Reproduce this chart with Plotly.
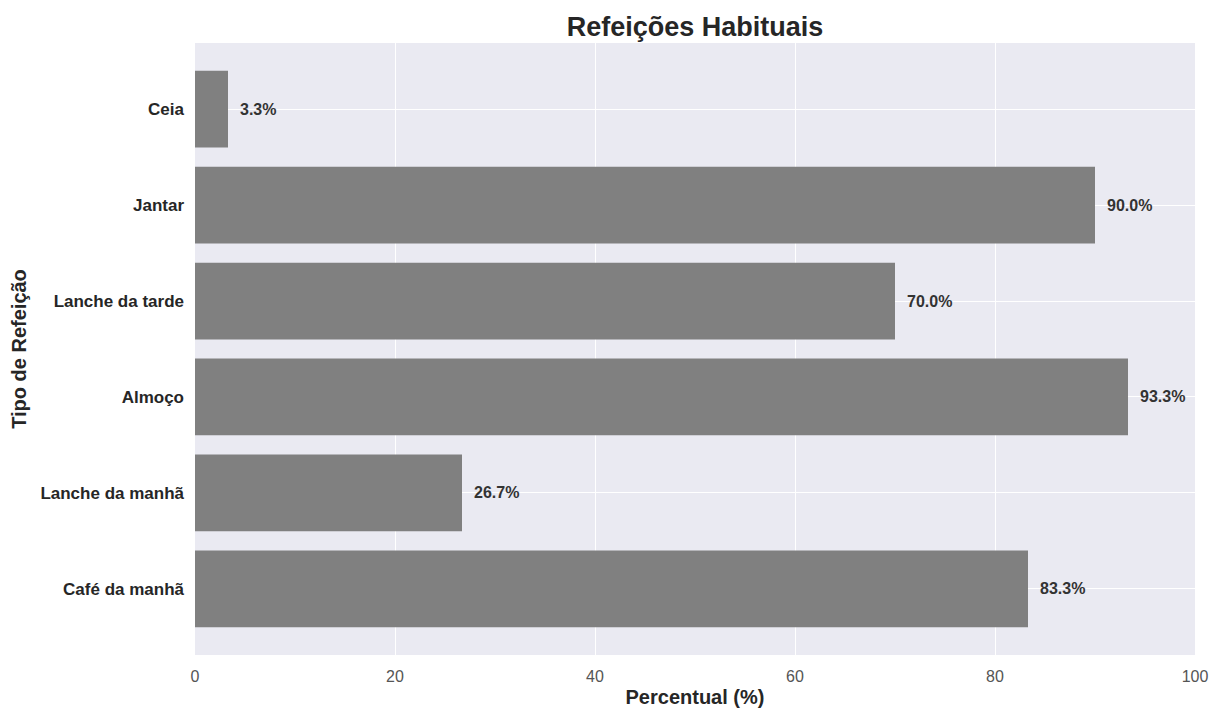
import plotly.graph_objects as go

# Habitual meals and share of respondents (%)
refeicoes = ["Café da manhã", "Lanche da manhã", "Almoço", "Lanche da tarde", "Jantar", "Ceia"]
percentuais = [83.3, 26.7, 93.3, 70.0, 90.0, 3.3]
xticks = [0, 20, 40, 60, 80, 100]

FONT = "Liberation Sans, Arial, sans-serif"

fig = go.Figure()
fig.add_trace(go.Bar(
    x=percentuais,
    y=refeicoes,
    orientation="h",
    width=0.8,
    marker=dict(color="#808080", line=dict(width=0)),
    hoverinfo="skip",
))

# value labels just past the end of each bar
for v, cat in zip(percentuais, refeicoes):
    fig.add_annotation(
        x=v, y=cat, text=f"<b>{v:.1f}%</b>", showarrow=False,
        xanchor="left", xshift=10,
        font=dict(family=FONT, size=16, color="#333333"),
    )

fig.update_layout(
    width=1211, height=708,
    margin=dict(l=195, r=16, t=43, b=53),
    paper_bgcolor="white",
    plot_bgcolor="#EAEAF2",
    showlegend=False,
    title=dict(
        text="<b>Refeições Habituais</b>",
        xref="paper", x=0.5, xanchor="center",
        yref="container", y=0.962, yanchor="middle",
        font=dict(family=FONT, size=27, color="#262626"),
    ),
    xaxis=dict(
        range=[0, 100], tickvals=xticks, ticktext=[str(t) for t in xticks],
        automargin=False,
        showgrid=True, gridcolor="white", gridwidth=1.3, zeroline=False,
        showline=False, ticks="", ticklabelstandoff=10,
        tickfont=dict(family=FONT, size=16, color="#555555"),
        title=dict(text="<b>Percentual (%)</b>", standoff=6,
                   font=dict(family=FONT, size=20, color="#262626")),
    ),
    yaxis=dict(
        type="category", categoryorder="array", categoryarray=refeicoes,
        range=[-0.69, 5.69], automargin=False,
        showgrid=True, gridcolor="white", gridwidth=1.3, zeroline=False,
        showline=False, ticks="", ticklabelstandoff=10,
        tickfont=dict(family=FONT, size=17, color="#262626"),
        tickprefix="<b>", ticksuffix="</b>",
        title=dict(text="<b>Tipo de Refeição</b>", standoff=8,
                   font=dict(family=FONT, size=20, color="#262626")),
    ),
)

fig.write_html("out.html")
